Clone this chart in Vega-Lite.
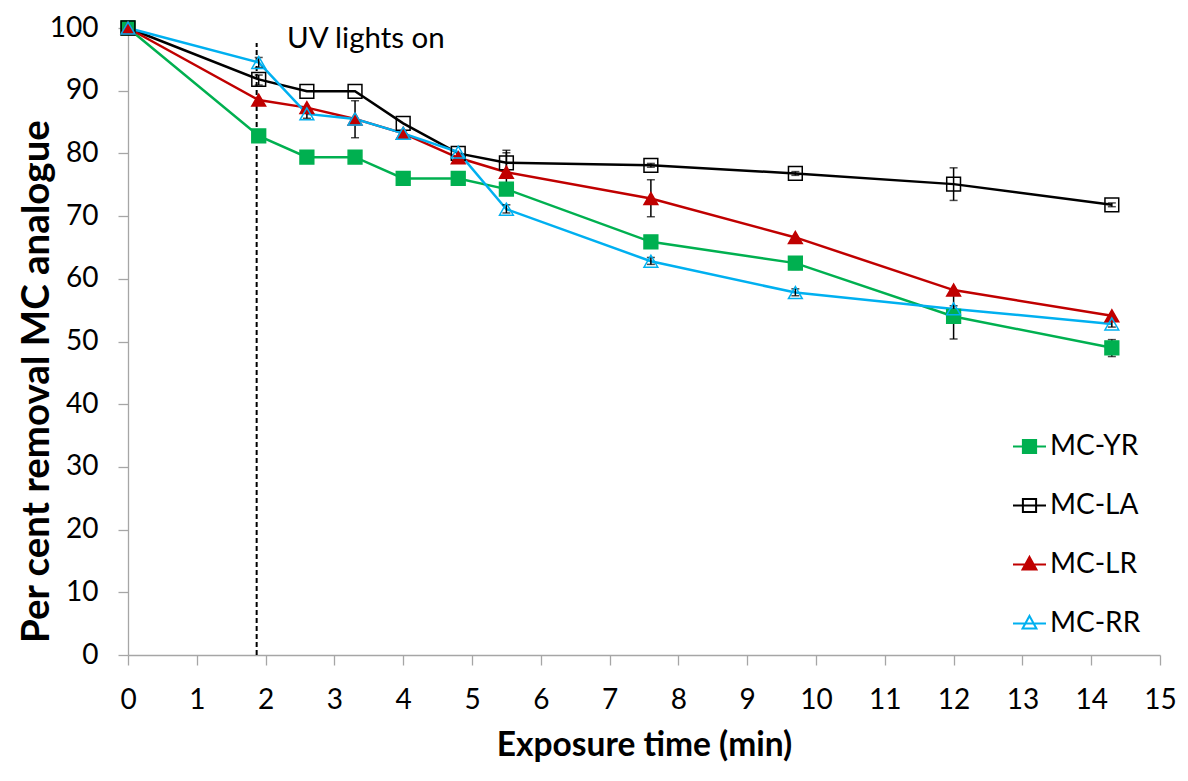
{
  "$schema": "https://vega.github.io/schema/vega-lite/v6.json",
  "width": 1032,
  "height": 627,
  "autosize": "none",
  "padding": {"left": 128, "top": 28, "right": 28, "bottom": 126},
  "background": "white",
  "config": {
    "view": {"stroke": null},
    "font": "Lato",
    "axis": {
      "grid": false,
      "domainColor": "#A6A6A6",
      "tickColor": "#A6A6A6",
      "tickSize": 10,
      "domainWidth": 1.3,
      "tickWidth": 1.3,
      "labelFont": "Lato",
      "labelFontSize": 28,
      "labelColor": "#000",
      "labelFlush": false,
      "labelOverlap": false,
      "titleFont": "Lato",
      "titleFontWeight": "bold",
      "titleColor": "#000"
    }
  },
  "datasets": {
    "pts": [
      {"series": "MC-YR", "t": 0, "v": 100},
      {"series": "MC-YR", "t": 1.9, "v": 82.8},
      {"series": "MC-YR", "t": 2.6, "v": 79.4},
      {"series": "MC-YR", "t": 3.3, "v": 79.4},
      {"series": "MC-YR", "t": 4.0, "v": 76.0},
      {"series": "MC-YR", "t": 4.8, "v": 76.0},
      {"series": "MC-YR", "t": 5.5, "v": 74.3},
      {"series": "MC-YR", "t": 7.6, "v": 65.9},
      {"series": "MC-YR", "t": 9.7, "v": 62.5},
      {"series": "MC-YR", "t": 12.0, "v": 54.0},
      {"series": "MC-YR", "t": 14.3, "v": 49.0},
      {"series": "MC-LA", "t": 0, "v": 100},
      {"series": "MC-LA", "t": 1.9, "v": 91.8},
      {"series": "MC-LA", "t": 2.6, "v": 89.9},
      {"series": "MC-LA", "t": 3.3, "v": 89.9},
      {"series": "MC-LA", "t": 4.0, "v": 84.8},
      {"series": "MC-LA", "t": 4.8, "v": 80.0},
      {"series": "MC-LA", "t": 5.5, "v": 78.5},
      {"series": "MC-LA", "t": 7.6, "v": 78.1},
      {"series": "MC-LA", "t": 9.7, "v": 76.8},
      {"series": "MC-LA", "t": 12.0, "v": 75.1},
      {"series": "MC-LA", "t": 14.3, "v": 71.8},
      {"series": "MC-LR", "t": 0, "v": 100},
      {"series": "MC-LR", "t": 1.9, "v": 88.5},
      {"series": "MC-LR", "t": 2.6, "v": 87.3},
      {"series": "MC-LR", "t": 3.3, "v": 85.5},
      {"series": "MC-LR", "t": 4.0, "v": 83.2},
      {"series": "MC-LR", "t": 4.8, "v": 79.3},
      {"series": "MC-LR", "t": 5.5, "v": 77.0},
      {"series": "MC-LR", "t": 7.6, "v": 72.8},
      {"series": "MC-LR", "t": 9.7, "v": 66.6},
      {"series": "MC-LR", "t": 12.0, "v": 58.2},
      {"series": "MC-LR", "t": 14.3, "v": 54.1},
      {"series": "MC-RR", "t": 0, "v": 100},
      {"series": "MC-RR", "t": 1.9, "v": 94.5},
      {"series": "MC-RR", "t": 2.6, "v": 86.3},
      {"series": "MC-RR", "t": 3.3, "v": 85.5},
      {"series": "MC-RR", "t": 4.0, "v": 83.2},
      {"series": "MC-RR", "t": 4.8, "v": 80.2},
      {"series": "MC-RR", "t": 5.5, "v": 71.1},
      {"series": "MC-RR", "t": 7.6, "v": 62.8},
      {"series": "MC-RR", "t": 9.7, "v": 57.8},
      {"series": "MC-RR", "t": 12.0, "v": 55.2},
      {"series": "MC-RR", "t": 14.3, "v": 52.8}
    ],
    "err": [
      {"series": "MC-LA", "t": 1.9, "lo": 90.9, "hi": 92.5},
      {"series": "MC-RR", "t": 1.9, "lo": 93.7, "hi": 95.3},
      {"series": "MC-RR", "t": 2.6, "lo": 85.6, "hi": 87.0},
      {"series": "MC-LR", "t": 3.3, "lo": 82.5, "hi": 88.4},
      {"series": "MC-LA", "t": 5.5, "lo": 76.5, "hi": 80.5},
      {"series": "MC-LR", "t": 5.5, "lo": 74.0, "hi": 80.1},
      {"series": "MC-RR", "t": 5.5, "lo": 70.5, "hi": 71.8},
      {"series": "MC-LR", "t": 7.6, "lo": 69.9, "hi": 75.8},
      {"series": "MC-LA", "t": 7.6, "lo": 77.8, "hi": 78.4},
      {"series": "MC-YR", "t": 7.6, "lo": 65.1, "hi": 66.7},
      {"series": "MC-RR", "t": 7.6, "lo": 62.3, "hi": 63.4},
      {"series": "MC-LA", "t": 9.7, "lo": 76.5, "hi": 77.1},
      {"series": "MC-YR", "t": 9.7, "lo": 61.5, "hi": 63.5},
      {"series": "MC-RR", "t": 9.7, "lo": 57.3, "hi": 58.4},
      {"series": "MC-LA", "t": 12.0, "lo": 72.5, "hi": 77.7},
      {"series": "MC-YR", "t": 12.0, "lo": 50.4, "hi": 57.6},
      {"series": "MC-RR", "t": 12.0, "lo": 54.7, "hi": 55.7},
      {"series": "MC-LA", "t": 14.3, "lo": 71.5, "hi": 72.1},
      {"series": "MC-YR", "t": 14.3, "lo": 47.6, "hi": 50.3},
      {"series": "MC-RR", "t": 14.3, "lo": 52.3, "hi": 53.4}
    ],
    "uv": [
      {"t": 1.87, "y0": 0, "y1": 97.6, "label": "UV lights on", "tx": 2.31, "ty": 96.8}
    ]
  },
  "layer": [
    {
      "data": {"name": "uv"},
      "mark": {"type": "rule", "color": "#000", "strokeWidth": 2, "strokeDash": [5, 3]},
      "encoding": {
        "x": {"field": "t", "type": "quantitative", "scale": {"domain": [0, 15], "nice": false}, "title": "Exposure time (min)",
              "axis": {"values": [0,1,2,3,4,5,6,7,8,9,10,11,12,13,14,15], "format": "d", "labelBaseline": "alphabetic", "labelPadding": 43, "titleBaseline": "alphabetic", "titleY": 100, "titleFontSize": 33.5}},
        "y": {"field": "y0", "type": "quantitative", "scale": {"domain": [0, 100], "nice": false}, "title": "Per cent removal MC analogue",
              "axis": {"values": [0,10,20,30,40,50,60,70,80,90,100], "format": "d", "labelPadding": 20, "titleBaseline": "alphabetic", "titleX": -80, "titleY": 353, "titleFontSize": 38.5}},
        "y2": {"field": "y1"}
      }
    },
    {
      "data": {"name": "pts"},
      "mark": {"type": "line", "strokeWidth": 2.5},
      "encoding": {
        "x": {"field": "t", "type": "quantitative", "title": "Exposure time (min)"},
        "y": {"field": "v", "type": "quantitative", "title": "Per cent removal MC analogue"},
        "color": {"field": "series", "type": "nominal", "sort": ["MC-YR", "MC-LA", "MC-LR", "MC-RR"],
                  "scale": {"domain": ["MC-YR", "MC-LA", "MC-LR", "MC-RR"], "range": ["#00B050", "#000000", "#C00000", "#00B0F0"]},
                  "legend": {
                    "orient": "none", "legendX": 884, "legendY": 401, "title": null, "padding": 0,
                    "symbolSize": 1089, "symbolStrokeWidth": 2, "labelFontSize": 28, "labelFont": "Lato", "labelColor": "#000",
                    "labelOffset": 3, "rowPadding": 27,
                    "encode": {"symbols": {"update": {
                      "shape": {"signal": "(datum.value === 'MC-YR' || datum.value === 'MC-LA') ? 'M-1,0H1M-0.4,-0.4H0.4V0.4H-0.4Z' : 'M-1,0H1M0,-0.46L0.42,0.3H-0.42Z'"},
                      "fill": {"signal": "datum.value === 'MC-YR' ? '#00B050' : (datum.value === 'MC-LR' ? '#C00000' : 'transparent')"},
                      "size": {"value": 1089},
                      "strokeWidth": {"value": 2},
                      "opacity": {"value": 1}
                    }}}
                  }}
      }
    },
    {
      "data": {"name": "err"},
      "mark": {"type": "errorbar", "ticks": true, "color": "#000", "thickness": 1.5, "size": 8},
      "encoding": {
        "x": {"field": "t", "type": "quantitative", "title": "Exposure time (min)"},
        "y": {"field": "lo", "type": "quantitative", "title": "Per cent removal MC analogue"},
        "y2": {"field": "hi"}
      }
    },
    {
      "data": {"name": "pts"},
      "mark": {"type": "point", "size": 190, "strokeWidth": 1.5, "opacity": 1},
      "encoding": {
        "x": {"field": "t", "type": "quantitative", "title": "Exposure time (min)"},
        "y": {"field": "v", "type": "quantitative", "title": "Per cent removal MC analogue"},
        "stroke": {"field": "series", "type": "nominal", "legend": null,
                  "scale": {"domain": ["MC-LA", "MC-YR", "MC-LR", "MC-RR"], "range": ["#000000", "#00B050", "#C00000", "#00B0F0"]}},
        "shape": {"field": "series", "type": "nominal", "legend": null,
                  "scale": {"domain": ["MC-LA", "MC-YR", "MC-RR", "MC-LR"], "range": ["square", "square", "triangle-up", "triangle-up"]}},
        "fill": {"field": "series", "type": "nominal", "legend": null,
                 "scale": {"domain": ["MC-LR", "MC-LA", "MC-YR", "MC-RR"], "range": ["#C00000", "transparent", "#00B050", "transparent"]}}
      }
    },
    {
      "data": {"name": "uv"},
      "mark": {"type": "text", "align": "left", "baseline": "alphabetic", "fontSize": 29.5, "font": "Lato", "color": "#000"},
      "encoding": {
        "x": {"field": "tx", "type": "quantitative"},
        "y": {"field": "ty", "type": "quantitative"},
        "text": {"field": "label"}
      }
    }
  ]
}
